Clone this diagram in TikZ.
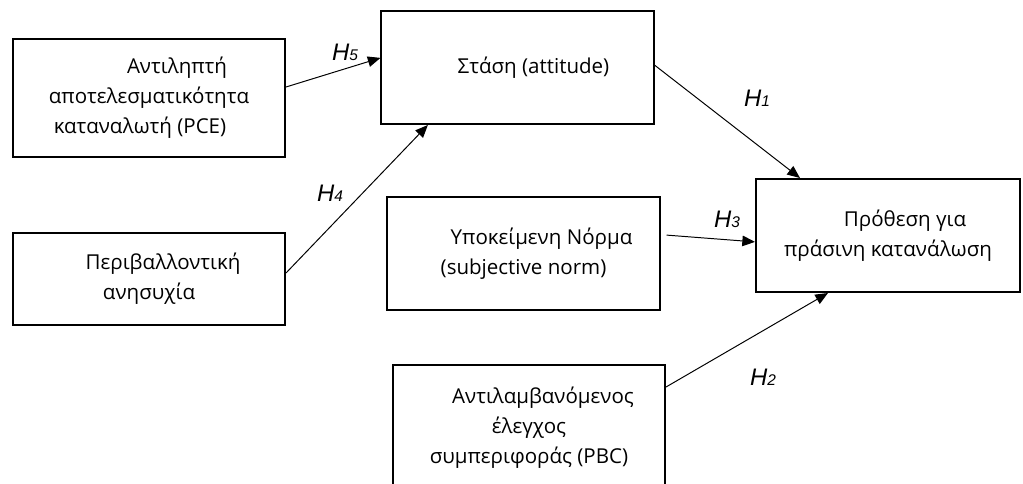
\documentclass[tikz,border=0pt]{standalone}
\usepackage{fontspec}
\setmainfont{Open Sans}
\newfontfamily\hfont{Liberation Sans}
\usetikzlibrary{arrows.meta}

\newcommand{\hlab}[1]{H{\fontsize{11}{13}\selectfont #1}}

\begin{document}
\begin{tikzpicture}[
  x=0.025cm, y=-0.025cm,
  box/.style={
    draw, line width=1.4pt,
    minimum width=6.8cm, minimum height=2.825cm,
    align=center, inner sep=0pt,
    font=\fontsize{14.6}{21.3}\selectfont,
  },
  hlabel/.style={font=\hfont\itshape\fontsize{17}{20}\selectfont, inner sep=0pt},
  arr/.style={-{Triangle[length=9pt,width=7.5pt]}, line width=0.7pt},
]
\useasboundingbox (0,0) rectangle (1023,484);
\clip (0,0) rectangle (1023,484);

% Antecedents (left column)
\node[box, minimum height=2.95cm] (pce) at (149,98)
  {\hspace*{1.4cm}Αντιληπτή\\αποτελεσματικότητα\\καταναλωτή (PCE)\hspace*{0.45cm}};
\node[box, minimum height=2.3cm] (env) at (149,279)
  {\hspace*{0.7cm}Περιβαλλοντική\\ανησυχία};

% TPB constructs (middle column)
\node[box] (att) at (517.5,67.5)
  {\hspace*{0.8cm}Στάση (attitude)};
\node[box] (subj) at (523.5,253.5)
  {\hspace*{0.9cm}Υποκείμενη Νόρμα\\(subjective norm)};
\node[box, minimum height=3.125cm] (pbc) at (529,427.5)
  {\hspace*{0.7cm}Αντιλαμβανόμενος\\έλεγχος\hspace*{1.45cm}\\συμπεριφοράς (PBC)};

% Outcome
\node[box, minimum width=6.6cm] (intent) at (888,235.5)
  {\hspace*{0.85cm}Πρόθεση για\\πράσινη κατανάλωση};

% Hypotheses
\draw[arr] ([yshift=0.275cm]pce.east) -- ([yshift=0.24cm]att.west);
\draw[arr] ([yshift=0.15cm]env.east) -- ([xshift=-2.24cm]att.south);
\draw[arr] ([yshift=0.06cm]att.east) -- ([xshift=-2.2cm]intent.north);
\draw[arr] ([xshift=0.15cm,yshift=0.46cm]subj.east) -- ([yshift=-0.16cm]intent.west);
\draw[arr] ([yshift=-0.575cm]pbc.north east) -- ([xshift=-1.5cm]intent.south);

\node[hlabel] (h5) at (345,52) {\hlab{5}};
\node[hlabel] (h4) at (330,193) {\hlab{4}};
\node[hlabel] (h1) at (757,98) {\hlab{1}};
\node[hlabel] (h3) at (727,219) {\hlab{3}};
\node[hlabel] (h2) at (763,377) {\hlab{2}};

\end{tikzpicture}
\end{document}
